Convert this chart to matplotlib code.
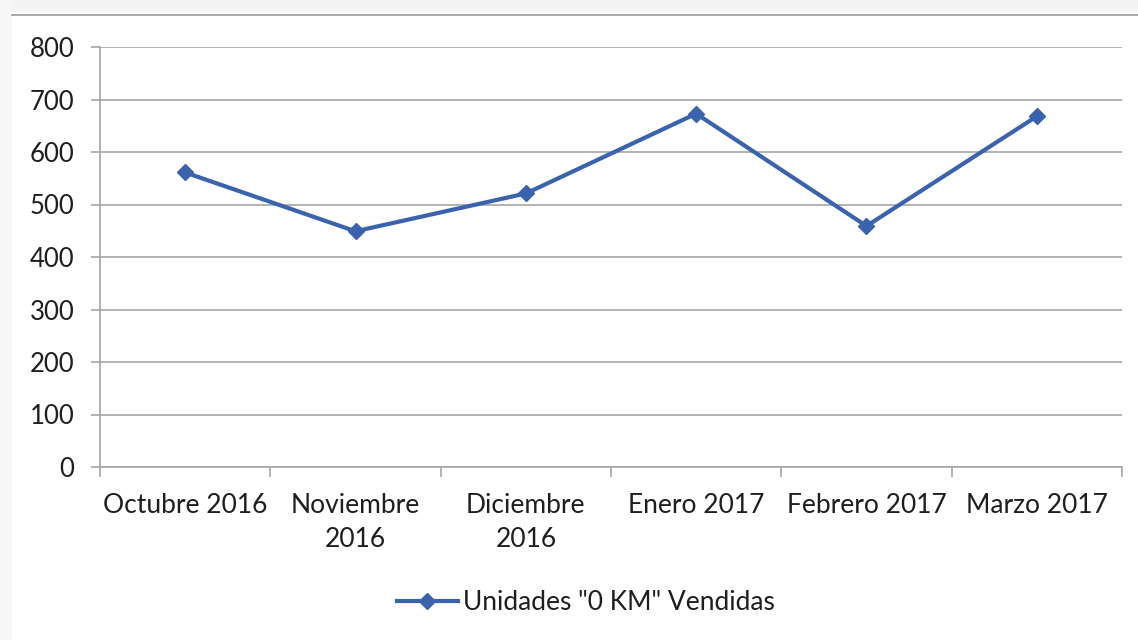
import matplotlib
matplotlib.use("Agg")
import matplotlib.pyplot as plt
from matplotlib.patches import Rectangle
from matplotlib.lines import Line2D

categories = ["Octubre 2016", "Noviembre\n2016", "Diciembre\n2016", "Enero 2017", "Febrero 2017", "Marzo 2017"]
values = [561, 449, 521, 673, 459, 668]
series_name = 'Unidades "0 KM" Vendidas'
y_ticks = [0, 100, 200, 300, 400, 500, 600, 700, 800]

plt.rcParams['font.family'] = ['Lato', 'DejaVu Sans']
W, H = 1138, 640
fig = plt.figure(figsize=(W / 100, H / 100), dpi=100)
fig.patch.set_facecolor('white')

# Background frame (screenshot border)
fig.add_artist(Rectangle((0, 1 - 12 / H), 1, 12 / H, transform=fig.transFigure, color='#f4f4f4', lw=0, zorder=0))
fig.add_artist(Rectangle((0, 0), 12 / W, 1, transform=fig.transFigure, color='#f7f7f7', lw=0, zorder=0))
fig.add_artist(Line2D([12 / W, 1], [1 - 14.5 / H, 1 - 14.5 / H], transform=fig.transFigure, color='#9a9a9a', lw=1.2))

ax = fig.add_axes([100 / W, 1 - 467 / H, (1122 - 100) / W, (467 - 47) / H])
x = list(range(len(categories)))
grid_c = '#a6a6a6'
line_c = '#3a62ad'
txt_c = '#1e1e1e'
fs = 19

ax.plot(x, values, color=line_c, lw=3, marker='D', markersize=8, label=series_name, zorder=3)

ax.set_xlim(-0.5, len(categories) - 0.5)
ax.set_ylim(0, 800)
ax.set_yticks(y_ticks)
ax.set_yticklabels([str(v) for v in y_ticks], fontsize=18.5, color=txt_c)
ax.yaxis.grid(True, color=grid_c, lw=1.2)
ax.set_axisbelow(True)
ax.tick_params(axis='y', length=6.5, width=1.2, color=grid_c, pad=12)

ax.set_xticks(x)
ax.set_xticklabels(categories, fontsize=fs, color=txt_c, linespacing=1.45)
ax.tick_params(axis='x', which='major', length=0, pad=19)
ax.set_xticks([i - 0.5 for i in range(len(categories) + 1)], minor=True)
ax.tick_params(axis='x', which='minor', length=7.2, width=1.2, color=grid_c, direction='out')

for s in ['top', 'right']:
    ax.spines[s].set_visible(False)
for s in ['left', 'bottom']:
    ax.spines[s].set_color(grid_c)
    ax.spines[s].set_linewidth(1.2)

leg = fig.legend(loc='center', bbox_to_anchor=(586 / W, 1 - 603 / H), frameon=False, fontsize=fs,
                 handlelength=2.3, handletextpad=0.2)
for t in leg.get_texts():
    t.set_color(txt_c)

fig.savefig('out.png', dpi=100)
